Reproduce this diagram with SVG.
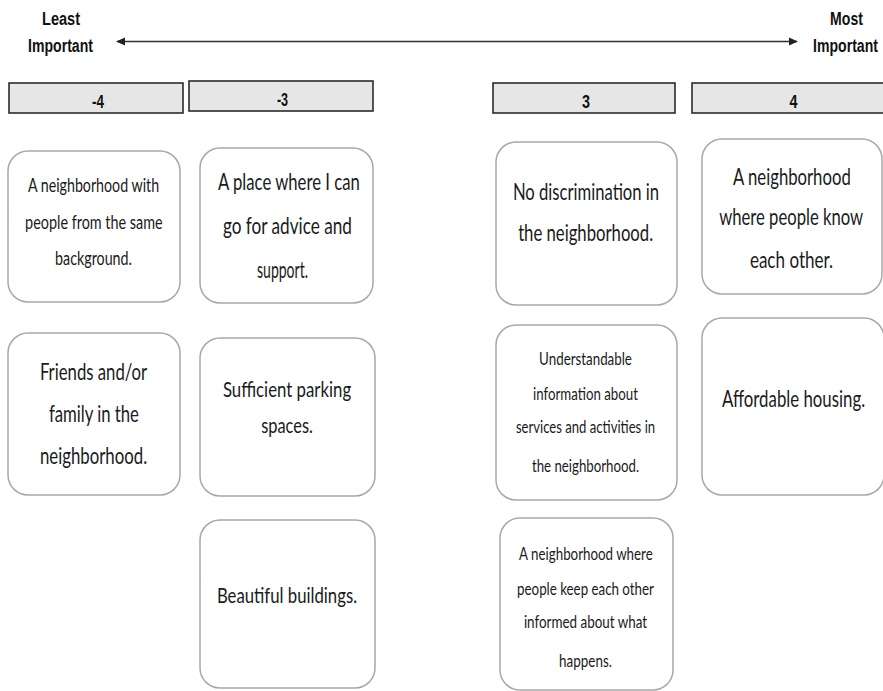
<svg xmlns="http://www.w3.org/2000/svg" width="883" height="691" viewBox="0 0 883 691">
<style>
.bar{fill:#e6e6e6;stroke:#2b2b2b;stroke-width:1.6}
.card{fill:#ffffff;stroke:#a8a8a8;stroke-width:1.5}
.hd{font-family:"Liberation Sans",Arial,sans-serif;font-weight:bold;fill:#111;text-anchor:middle}
.ct{font-family:Lato,"Liberation Sans",sans-serif;fill:#1a1a1a;text-anchor:middle}
</style>
<defs>
<marker id="ah" viewBox="0 0 10 10" refX="9" refY="5" markerWidth="9" markerHeight="9" markerUnits="userSpaceOnUse" orient="auto-start-reverse">
<path d="M0,0.5 L10,5 L0,9.5 Z" fill="#222"/>
</marker>
</defs>
<rect width="883" height="691" fill="#ffffff"/>

<g id="axis-labels">
<g transform="translate(61 0) scale(0.8 1)">
<text class="hd" x="0" y="25" font-size="19" textLength="47.5" lengthAdjust="spacingAndGlyphs">Least</text>
</g>
<g transform="translate(60.5 0) scale(0.8 1)">
<text class="hd" x="0" y="52" font-size="19" textLength="81" lengthAdjust="spacingAndGlyphs">Important</text>
</g>
<g transform="translate(846.5 0) scale(0.8 1)">
<text class="hd" x="0" y="25" font-size="19" textLength="41" lengthAdjust="spacingAndGlyphs">Most</text>
</g>
<g transform="translate(845.5 0) scale(0.8 1)">
<text class="hd" x="0" y="52" font-size="19" textLength="81" lengthAdjust="spacingAndGlyphs">Important</text>
</g>
</g>

<g id="connectors">
<line x1="117" y1="41.5" x2="797" y2="41.5" stroke="#333" stroke-width="1.5" marker-start="url(#ah)" marker-end="url(#ah)"/>
</g>

<g id="col-m4">
<rect class="bar" x="9" y="83" width="174" height="30"/>
<g transform="translate(98 0) scale(0.8 1)"><text class="hd" x="0" y="108" font-size="18" textLength="15" lengthAdjust="spacingAndGlyphs">-4</text></g>
</g>
<g id="col-m3">
<rect class="bar" x="189" y="81" width="184" height="30"/>
<g transform="translate(282.5 0) scale(0.8 1)"><text class="hd" x="0" y="106" font-size="18" textLength="14" lengthAdjust="spacingAndGlyphs">-3</text></g>
</g>
<g id="col-3">
<rect class="bar" x="493" y="83" width="182" height="30"/>
<g transform="translate(586 0) scale(0.8 1)"><text class="hd" x="0" y="108" font-size="18" textLength="10" lengthAdjust="spacingAndGlyphs">3</text></g>
</g>
<g id="col-4">
<rect class="bar" x="692" y="83" width="200" height="30"/>
<g transform="translate(793.5 0) scale(0.8 1)"><text class="hd" x="0" y="108" font-size="18" textLength="10" lengthAdjust="spacingAndGlyphs">4</text></g>
</g>

<g id="card-a">
<rect class="card" x="8" y="151" width="172" height="151" rx="20"/>
<g transform="translate(93.5 0) scale(0.8 1)">
<text class="ct" x="0" y="192" font-size="19" textLength="164" lengthAdjust="spacingAndGlyphs">A neighborhood with</text>
<text class="ct" x="0.5" y="229" font-size="19" textLength="172" lengthAdjust="spacingAndGlyphs">people from the same</text>
<text class="ct" x="0" y="265" font-size="19" textLength="96" lengthAdjust="spacingAndGlyphs">background.</text>
</g>
</g>

<g id="card-b">
<rect class="card" x="200" y="148" width="173" height="155" rx="20"/>
<g transform="translate(287 0) scale(0.75 1)">
<text class="ct" x="2.5" y="190" font-size="24" textLength="189" lengthAdjust="spacingAndGlyphs">A place where I can</text>
<text class="ct" x="0.5" y="234" font-size="24" textLength="172" lengthAdjust="spacingAndGlyphs">go for advice and</text>
<text class="ct" x="-6" y="278" font-size="24" textLength="68" lengthAdjust="spacingAndGlyphs">support.</text>
</g>
</g>

<g id="card-c">
<rect class="card" x="496" y="142" width="181" height="163" rx="20"/>
<g transform="translate(586 0) scale(0.75 1)">
<text class="ct" x="0" y="200" font-size="24" textLength="195" lengthAdjust="spacingAndGlyphs">No discrimination in</text>
<text class="ct" x="-0.5" y="241" font-size="24" textLength="180" lengthAdjust="spacingAndGlyphs">the neighborhood.</text>
</g>
</g>

<g id="card-d">
<rect class="card" x="702" y="139" width="180" height="155" rx="20"/>
<g transform="translate(791.5 0) scale(0.75 1)">
<text class="ct" x="0.5" y="185" font-size="24" textLength="157" lengthAdjust="spacingAndGlyphs">A neighborhood</text>
<text class="ct" x="-0.5" y="225" font-size="24" textLength="192" lengthAdjust="spacingAndGlyphs">where people know</text>
<text class="ct" x="0" y="268" font-size="24" textLength="111" lengthAdjust="spacingAndGlyphs">each other.</text>
</g>
</g>

<g id="card-e">
<rect class="card" x="8" y="333" width="172" height="162" rx="20"/>
<g transform="translate(93.5 0) scale(0.75 1)">
<text class="ct" x="0" y="380" font-size="24" textLength="143" lengthAdjust="spacingAndGlyphs">Friends and/or</text>
<text class="ct" x="0.5" y="422" font-size="24" textLength="120" lengthAdjust="spacingAndGlyphs">family in the</text>
<text class="ct" x="0" y="464" font-size="24" textLength="143" lengthAdjust="spacingAndGlyphs">neighborhood.</text>
</g>
</g>

<g id="card-f">
<rect class="card" x="200" y="338" width="175" height="158" rx="20"/>
<g transform="translate(287 0) scale(0.75 1)">
<text class="ct" x="0" y="397" font-size="22" textLength="171" lengthAdjust="spacingAndGlyphs">Sufficient parking</text>
<text class="ct" x="0" y="433" font-size="22" textLength="69" lengthAdjust="spacingAndGlyphs">spaces.</text>
</g>
</g>

<g id="card-g">
<rect class="card" x="200" y="520" width="175" height="168" rx="20"/>
<g transform="translate(287 0) scale(0.75 1)">
<text class="ct" x="0" y="603" font-size="22" textLength="187" lengthAdjust="spacingAndGlyphs">Beautiful buildings.</text>
</g>
</g>

<g id="card-h">
<rect class="card" x="496" y="325" width="181" height="175" rx="20"/>
<g transform="translate(585.5 0) scale(0.8 1)">
<text class="ct" x="0" y="365" font-size="17" textLength="116" lengthAdjust="spacingAndGlyphs">Understandable</text>
<text class="ct" x="0" y="400" font-size="17" textLength="131" lengthAdjust="spacingAndGlyphs">information about</text>
<text class="ct" x="0" y="433" font-size="17" textLength="174" lengthAdjust="spacingAndGlyphs">services and activities in</text>
<text class="ct" x="0" y="472" font-size="17" textLength="134" lengthAdjust="spacingAndGlyphs">the neighborhood.</text>
</g>
</g>

<g id="card-i">
<rect class="card" x="702" y="318" width="182" height="177" rx="20"/>
<g transform="translate(793.5 0) scale(0.75 1)">
<text class="ct" x="0" y="407" font-size="24" textLength="191" lengthAdjust="spacingAndGlyphs">Affordable housing.</text>
</g>
</g>

<g id="card-j">
<rect class="card" x="500" y="518" width="173" height="172" rx="20"/>
<g transform="translate(585.5 0) scale(0.8 1)">
<text class="ct" x="0.5" y="560" font-size="18" textLength="167" lengthAdjust="spacingAndGlyphs">A neighborhood where</text>
<text class="ct" x="0" y="595" font-size="18" textLength="171" lengthAdjust="spacingAndGlyphs">people keep each other</text>
<text class="ct" x="0" y="628" font-size="18" textLength="154" lengthAdjust="spacingAndGlyphs">informed about what</text>
<text class="ct" x="0" y="667" font-size="18" textLength="66" lengthAdjust="spacingAndGlyphs">happens.</text>
</g>
</g>
</svg>
